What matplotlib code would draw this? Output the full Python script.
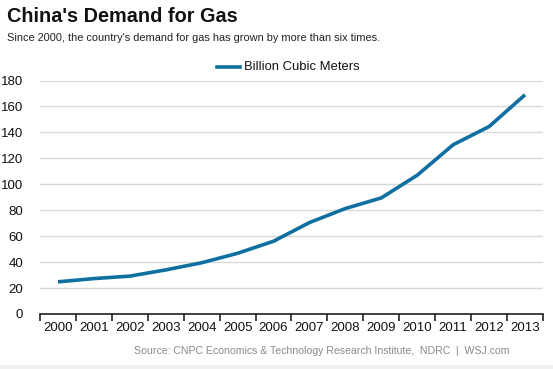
import matplotlib
matplotlib.use("Agg")
import matplotlib.pyplot as plt
from matplotlib.patches import Rectangle
from matplotlib.lines import Line2D

years = ["2000", "2001", "2002", "2003", "2004", "2005", "2006", "2007",
         "2008", "2009", "2010", "2011", "2012", "2013"]
demand = [24.8, 27.3, 29.2, 34.0, 39.5, 46.8, 56.1, 70.5,
          81.3, 89.5, 107.0, 130.5, 144.5, 169.0]
yticks = [0, 20, 40, 60, 80, 100, 120, 140, 160, 180]

W, H = 553, 369
plt.rcParams['font.family'] = ['Liberation Sans', 'DejaVu Sans']
fig = plt.figure(figsize=(W / 100, H / 100), dpi=100)
fig.patch.set_facecolor('white')

x0, x1 = 40, 543
ybot, ytop = 314, 80.5
ax = fig.add_axes([x0 / W, (H - ybot) / H, (x1 - x0) / W, (ybot - ytop) / H])

xs = list(range(len(years)))
ax.plot(xs, demand, color='#0e6fa0', lw=2.6, solid_capstyle='butt',
        solid_joinstyle='round', clip_on=False, zorder=3)
ax.set_xlim(-0.5, len(years) - 0.5)
ax.set_ylim(0, 180)
ax.set_yticks(yticks)
ax.set_yticklabels([str(v) for v in yticks], fontsize=9.5, color='#111111')
ax.set_xticks([i - 0.5 for i in range(len(years) + 1)], minor=False)
ax.set_xticklabels([])
ax.set_xticks(xs, minor=True)
ax.set_xticklabels(years, minor=True, fontsize=9.5, color='#111111')
ax.tick_params(axis='x', which='major', length=5, width=1.2, color='#222222', direction='out')
ax.tick_params(axis='x', which='minor', length=0, pad=6)
ax.tick_params(axis='y', length=0, pad=12)
for t in ax.get_yticklabels():
    t.set_horizontalalignment('right')
ax.grid(axis='y', color='#d9d9d9', lw=1.0)
ax.set_axisbelow(True)
for s in ['top', 'right', 'left']:
    ax.spines[s].set_visible(False)
ax.spines['bottom'].set_color('#222222')
ax.spines['bottom'].set_linewidth(1.2)
ax.spines['bottom'].set_zorder(4)

fig.text(7 / W, 1 - 16 / H, "China's Demand for Gas", fontsize=14.3,
         fontweight='bold', va='center', ha='left', color='#111111')
fig.text(7 / W, 1 - 38 / H,
         "Since 2000, the country's demand for gas has grown by more than six times.",
         fontsize=7.9, va='center', ha='left', color='#222222')

fig.add_artist(Line2D([217 / W, 240 / W], [1 - 67 / H, 1 - 67 / H],
                      color='#0e6fa0', lw=2.6, transform=fig.transFigure))
fig.text(244 / W, 1 - 67 / H, "Billion Cubic Meters", fontsize=9.4,
         va='center', ha='left', color='#111111')

fig.text(509 / W, 1 - 351 / H,
         "Source: CNPC Economics & Technology Research Institute,  NDRC  |  WSJ.com",
         fontsize=7.6, va='center', ha='right', color='#8a8a8a')

fig.add_artist(Rectangle((0, 0), 1, 4 / H, transform=fig.transFigure,
                         facecolor='#f0f0f0', edgecolor='none'))

fig.savefig("out.png", dpi=100)
